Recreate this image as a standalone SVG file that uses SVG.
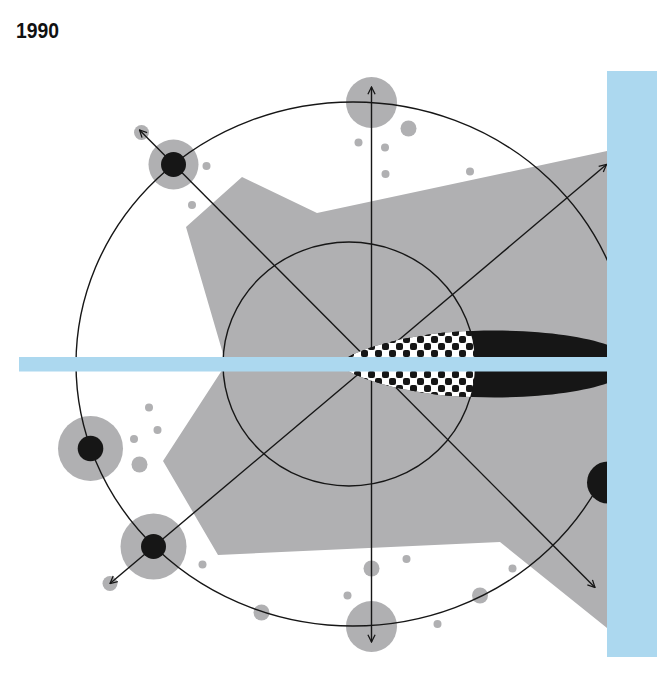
<svg xmlns="http://www.w3.org/2000/svg" width="668" height="673" viewBox="0 0 668 673">
  <style>
    .gray { fill: #b0b0b2; }
    .blk { fill: #161616; }
    .blue { fill: #acd8ef; }
    .ring { fill: none; stroke: #161616; stroke-width: 1.4; }
    .arrow { fill: none; stroke: #161616; stroke-width: 1.4; marker-end: url(#arr); }
    .title { font-family: "Liberation Sans", Arial, sans-serif; font-weight: bold; font-size: 22px; fill: #111; }
  </style>
  <defs>
    <marker id="arr" viewBox="0 0 10 10" refX="9" refY="5" markerWidth="9" markerHeight="9" markerUnits="userSpaceOnUse" orient="auto">
      <path d="M1,1 L9,5 L1,9" fill="none" stroke="#161616" stroke-width="1.4"/>
    </marker>
    <pattern id="chk" width="14" height="14" patternUnits="userSpaceOnUse" x="340" y="357">
      <rect width="14" height="14" fill="#ffffff"/>
      <rect x="0" y="0" width="7" height="7" rx="2" fill="#161616"/>
      <rect x="7" y="7" width="7" height="7" rx="2" fill="#161616"/>
    </pattern>
    <clipPath id="innerClip">
      <ellipse cx="349" cy="364" rx="126" ry="122"/>
    </clipPath>
    <path id="leafShape" d="M338,364 C358,346 420,332 473,331 C530,329 580,335 608,345 L608,383 C580,393 530,399 473,397 C420,396 358,382 338,364 Z"/>
  </defs>

  <rect width="668" height="673" fill="#ffffff"/>

  <text class="title" x="16" y="38" textLength="43" lengthAdjust="spacingAndGlyphs">1990</text>

  <!-- background region -->
  <polygon id="region" class="gray" points="186,227 242,177 317,213 607,151 607,628 500,542 218,555 163,461 226,364"/>

  <!-- small dots -->
  <g id="dots" class="gray">
    <circle cx="141.5" cy="132.5" r="7.5"/>
    <circle cx="206.5" cy="166" r="4"/>
    <circle cx="192" cy="205" r="4"/>
    <circle cx="408.5" cy="128.5" r="8"/>
    <circle cx="358.5" cy="142.5" r="4"/>
    <circle cx="385" cy="147.5" r="4"/>
    <circle cx="385.5" cy="174" r="4"/>
    <circle cx="470" cy="171.5" r="4"/>
    <circle cx="149" cy="407.5" r="4"/>
    <circle cx="157.5" cy="430" r="4"/>
    <circle cx="134" cy="439" r="4"/>
    <circle cx="139.5" cy="464.5" r="8"/>
    <circle cx="202.5" cy="564.5" r="4"/>
    <circle cx="110" cy="583.5" r="7.5"/>
    <circle cx="261.5" cy="612.5" r="8"/>
    <circle cx="371.5" cy="568.5" r="8"/>
    <circle cx="406.5" cy="559" r="4"/>
    <circle cx="347.5" cy="595.5" r="4"/>
    <circle cx="437.5" cy="624" r="4"/>
    <circle cx="480" cy="595.5" r="8"/>
    <circle cx="512.5" cy="568.5" r="4"/>
  </g>

  <!-- node halos -->
  <g id="halos" class="gray">
    <circle cx="173.5" cy="164.5" r="25"/>
    <circle cx="90.5" cy="448.5" r="32.5"/>
    <circle cx="153.5" cy="546.5" r="33"/>
    <circle cx="371.5" cy="102.5" r="25.5"/>
    <circle cx="371.5" cy="626.5" r="25.5"/>
  </g>

  <!-- rings -->
  <g id="rings">
    <ellipse class="ring" cx="353" cy="364" rx="277" ry="262"/>
    <ellipse class="ring" cx="349" cy="364" rx="126" ry="122"/>
  </g>

  <!-- connectors -->
  <g id="connectors">
    <line class="arrow" x1="371.5" y1="363" x2="371.5" y2="87"/>
    <line class="arrow" x1="371.5" y1="363" x2="371.5" y2="642"/>
    <line class="arrow" x1="371.5" y1="363" x2="139.5" y2="130"/>
    <line class="arrow" x1="371.5" y1="363" x2="595" y2="587.5"/>
    <line class="arrow" x1="371.5" y1="363" x2="110" y2="583.5"/>
    <line class="arrow" x1="371.5" y1="363" x2="606.5" y2="164.5"/>
  </g>

  <!-- leaf -->
  <g id="leaf">
    <use href="#leafShape" class="blk"/>
    <use href="#leafShape" fill="url(#chk)" clip-path="url(#innerClip)"/>
  </g>

  <!-- black nodes -->
  <g id="node-ul"><circle class="blk" cx="173.5" cy="164.5" r="12.5"/></g>
  <g id="node-l"><circle class="blk" cx="90.5" cy="448.5" r="12.8"/></g>
  <g id="node-ll"><circle class="blk" cx="153.5" cy="546.5" r="12.5"/></g>
  <g id="node-r"><circle class="blk" cx="608" cy="482.5" r="21"/></g>

  <!-- bars -->
  <g id="bars" class="blue">
    <rect x="19" y="357" width="589" height="14.5"/>
    <rect x="607" y="71" width="50" height="586"/>
  </g>
</svg>
